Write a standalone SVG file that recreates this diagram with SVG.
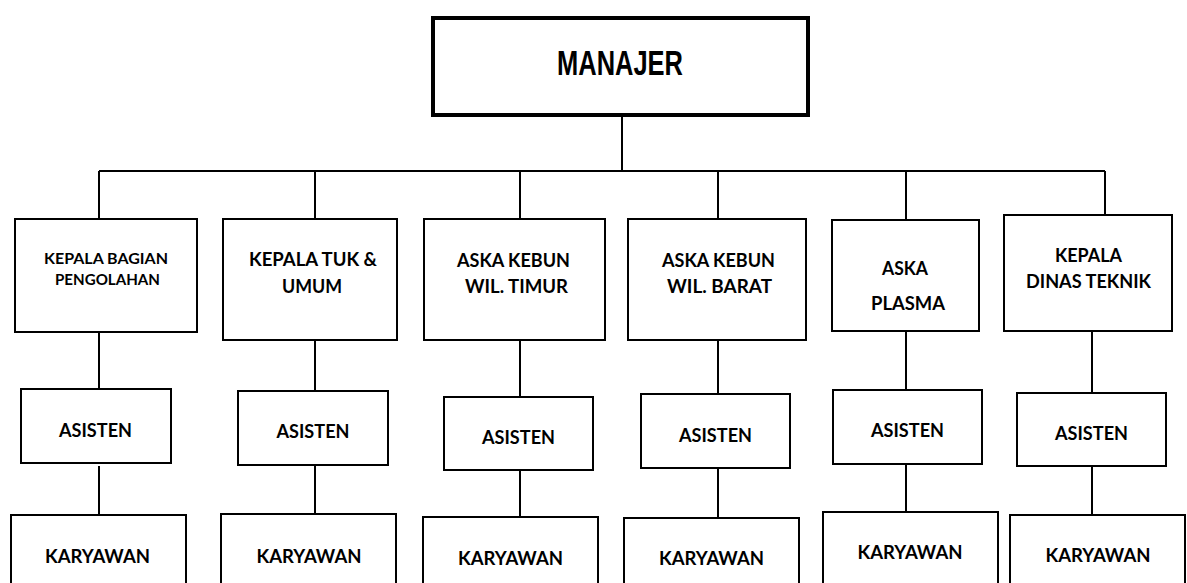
<svg xmlns="http://www.w3.org/2000/svg" width="1187" height="583" viewBox="0 0 1187 583">
<style>
.bg{fill:#fff}
.box{fill:#fff;stroke:#000;stroke-width:2}
.top{fill:#fff;stroke:#000;stroke-width:4}
.ln{stroke:#000;stroke-width:2;fill:none}
.t{font-family:Lato,"Open Sans","Liberation Sans",sans-serif;font-weight:bold;fill:#000;text-anchor:middle}
.s{font-size:15.5px}
.m{font-size:19.5px}
.k{font-size:18px}
.big{font-family:"Liberation Sans",Arial,sans-serif;font-weight:bold;font-size:35px;fill:#000;text-anchor:middle}
</style>
<rect class="bg" x="0" y="0" width="1187" height="583"/>
<g id="connectors">
<path class="ln" d="M622,115V171M99,171H1105M99,171V219M315,171V219M520,171V219M718,171V219M906,171V220M1105,171V215"/>
<path class="ln" d="M99,332V389M315,340V391M520,340V397M718,340V394M906,331V390M1092,331V393"/>
<path class="ln" d="M99,466V515M315,465V514M520,470V517M718,468V518M906,464V512M1092,466V515"/>
</g>
<g id="manajer"><rect class="top" x="433" y="18" width="375" height="97"/><text class="big" x="620" y="75" textLength="126" lengthAdjust="spacingAndGlyphs">MANAJER</text></g>
<g id="kepala-bagian-pengolahan"><rect class="box" x="15" y="219" width="182" height="113"/>
<text class="t s" x="106" y="264" textLength="124" lengthAdjust="spacingAndGlyphs">KEPALA BAGIAN</text>
<text class="t s" x="107.5" y="285" textLength="105" lengthAdjust="spacingAndGlyphs">PENGOLAHAN</text></g>
<g id="kepala-tuk-umum"><rect class="box" x="223" y="219" width="174" height="121"/>
<text class="t m" x="313" y="266" textLength="128" lengthAdjust="spacingAndGlyphs">KEPALA TUK &amp;</text>
<text class="t m" x="312" y="293" textLength="60" lengthAdjust="spacingAndGlyphs">UMUM</text></g>
<g id="aska-timur"><rect class="box" x="424" y="219" width="181" height="121"/>
<text class="t m" x="513.5" y="267" textLength="113" lengthAdjust="spacingAndGlyphs">ASKA KEBUN</text>
<text class="t m" x="516.5" y="293" textLength="103" lengthAdjust="spacingAndGlyphs">WIL. TIMUR</text></g>
<g id="aska-barat"><rect class="box" x="628" y="219" width="178" height="121"/>
<text class="t m" x="718.5" y="267" textLength="113" lengthAdjust="spacingAndGlyphs">ASKA KEBUN</text>
<text class="t m" x="719.5" y="293" textLength="105" lengthAdjust="spacingAndGlyphs">WIL. BARAT</text></g>
<g id="aska-plasma"><rect class="box" x="832" y="220" width="147" height="111"/>
<text class="t m" x="905" y="275" textLength="46" lengthAdjust="spacingAndGlyphs">ASKA</text>
<text class="t m" x="908" y="310" textLength="74" lengthAdjust="spacingAndGlyphs">PLASMA</text></g>
<g id="kepala-dinas-teknik"><rect class="box" x="1004" y="215" width="168" height="116"/>
<text class="t m" x="1088.5" y="262" textLength="67" lengthAdjust="spacingAndGlyphs">KEPALA</text>
<text class="t m" x="1088.5" y="288" textLength="125" lengthAdjust="spacingAndGlyphs">DINAS TEKNIK</text></g>
<g id="asisten-1"><rect class="box" x="21" y="389" width="150" height="74"/><text class="t m" x="95.5" y="437" textLength="73" lengthAdjust="spacingAndGlyphs">ASISTEN</text></g>
<g id="asisten-2"><rect class="box" x="238" y="391" width="150" height="74"/><text class="t m" x="313" y="438" textLength="73" lengthAdjust="spacingAndGlyphs">ASISTEN</text></g>
<g id="asisten-3"><rect class="box" x="444" y="397" width="149" height="73"/><text class="t m" x="518.5" y="444" textLength="73" lengthAdjust="spacingAndGlyphs">ASISTEN</text></g>
<g id="asisten-4"><rect class="box" x="641" y="394" width="149" height="74"/><text class="t m" x="715.5" y="442" textLength="73" lengthAdjust="spacingAndGlyphs">ASISTEN</text></g>
<g id="asisten-5"><rect class="box" x="833" y="390" width="149" height="74"/><text class="t m" x="907.5" y="437" textLength="73" lengthAdjust="spacingAndGlyphs">ASISTEN</text></g>
<g id="asisten-6"><rect class="box" x="1017" y="393" width="149" height="73"/><text class="t m" x="1091.5" y="440" textLength="73" lengthAdjust="spacingAndGlyphs">ASISTEN</text></g>
<g id="karyawan-1"><rect class="box" x="11" y="515" width="175" height="90"/><text class="t k" x="97.5" y="563" textLength="105" lengthAdjust="spacingAndGlyphs">KARYAWAN</text></g>
<g id="karyawan-2"><rect class="box" x="221" y="514" width="175" height="90"/><text class="t k" x="309" y="563" textLength="105" lengthAdjust="spacingAndGlyphs">KARYAWAN</text></g>
<g id="karyawan-3"><rect class="box" x="423" y="517" width="175" height="90"/><text class="t k" x="510.5" y="565" textLength="105" lengthAdjust="spacingAndGlyphs">KARYAWAN</text></g>
<g id="karyawan-4"><rect class="box" x="624" y="518" width="175" height="90"/><text class="t k" x="711.5" y="565" textLength="105" lengthAdjust="spacingAndGlyphs">KARYAWAN</text></g>
<g id="karyawan-5"><rect class="box" x="823" y="512" width="175" height="90"/><text class="t k" x="910" y="559" textLength="105" lengthAdjust="spacingAndGlyphs">KARYAWAN</text></g>
<g id="karyawan-6"><rect class="box" x="1010" y="515" width="175" height="90"/><text class="t k" x="1098" y="562" textLength="105" lengthAdjust="spacingAndGlyphs">KARYAWAN</text></g>
</svg>
